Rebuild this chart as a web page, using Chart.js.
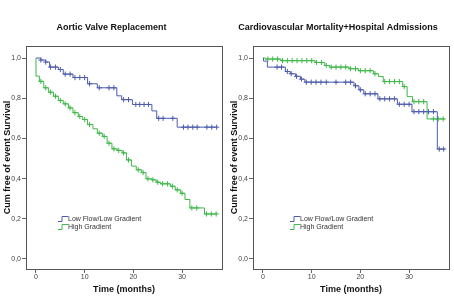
<!DOCTYPE html>
<html>
<head>
<meta charset="utf-8">
<script src="https://cdn.jsdelivr.net/npm/chart.js@4.4.0/dist/chart.umd.min.js"></script>
<style>
    html, body { margin: 0; padding: 0; background: #fff; }
    .wrap { display: flex; width: 454px; height: 304px; }
    .panel { position: relative; width: 227px; height: 304px; }
</style>
</head>
<body>
<div class="wrap">
    <div class="panel"><canvas id="avrChart"></canvas></div>
    <div class="panel"><canvas id="cvChart"></canvas></div>
</div>
<script>
// Tick labels
const xTicks = [0, 10, 20, 30];
const yTicks = [0, 0.2, 0.4, 0.6, 0.8, 1.0];
const seriesLabels = ['Low Flow/Low Gradient', 'High Gradient'];

// Aortic Valve Replacement - Low Flow/Low Gradient (event times, survival after the event, censored times)
const avrLowTimes = [1, 2, 2.8, 4.6, 5.6, 7.6, 10.6, 12.6, 16.6, 17.6, 19.8, 23.8, 24.8, 29.0];
const avrLowSurv = [0.99, 0.98, 0.955, 0.943, 0.92, 0.903, 0.872, 0.852, 0.812, 0.793, 0.769, 0.737, 0.70, 0.656];
const avrLowCensor = [1, 2, 3, 4, 5, 6, 7, 8, 9, 10, 11, 13, 15, 16, 18, 19, 20.5, 21.3, 22.2, 23.1, 25.2, 26.1, 28.1, 30.3, 31.2, 32.2, 33.1, 35.1, 36.1, 37.1];
const avrLowEnd = 37.1;

// Aortic Valve Replacement - High Gradient
const avrHighTimes = [0, 0.7, 1.6, 2.6, 3.6, 4.6, 5.6, 6.7, 7.6, 8.7, 9.6, 10.6, 11.7, 12.6, 13.7, 14.6, 15.6, 16.7, 17.7, 18.6, 19.6, 20.6, 21.7, 22.6, 23.8, 24.7, 25.6, 27.6, 28.6, 29.7, 30.6, 31.6, 34.6];
const avrHighSurv = [0.91, 0.884, 0.852, 0.83, 0.81, 0.789, 0.772, 0.752, 0.728, 0.709, 0.694, 0.669, 0.648, 0.626, 0.61, 0.576, 0.548, 0.54, 0.528, 0.493, 0.462, 0.444, 0.43, 0.399, 0.394, 0.382, 0.374, 0.362, 0.344, 0.327, 0.296, 0.254, 0.224];
const avrHighCensor = [1, 2, 3, 4, 5, 6, 7, 8, 9, 10, 11, 13, 14, 15, 16, 17, 18, 19, 21, 22, 23, 24, 25, 26, 27, 28, 29, 30, 32, 33, 35, 36, 37];
const avrHighEnd = 37.2;

// Cardiovascular Mortality+Hospital Admissions - Low Flow/Low Gradient
const cvLowTimes = [0.1, 0.9, 4.6, 5.6, 6.7, 7.7, 8.6, 18.7, 19.7, 20.7, 23.6, 27.6, 30.6, 35.8];
const cvLowSurv = [0.985, 0.955, 0.933, 0.922, 0.909, 0.895, 0.88, 0.862, 0.842, 0.822, 0.797, 0.77, 0.733, 0.547];
const cvLowCensor = [2.9, 3.8, 5, 5.8, 6.9, 7.9, 8.9, 9.9, 10.9, 11.9, 13, 15, 17, 18, 19, 20, 21, 22, 23, 24, 25, 26, 27, 28, 29, 30, 31, 32, 33, 34, 35, 36.2, 37.1];
const cvLowEnd = 37.3;

// Cardiovascular Mortality+Hospital Admissions - High Gradient
const cvHighTimes = [0.5, 3.7, 10.7, 12.7, 13.7, 17.7, 19.6, 22.7, 23.7, 24.7, 28.7, 29.6, 30.7, 33.7];
const cvHighSurv = [0.995, 0.987, 0.978, 0.963, 0.955, 0.947, 0.937, 0.922, 0.908, 0.883, 0.858, 0.808, 0.783, 0.697];
const cvHighCensor = [1, 2, 3, 4, 5, 6, 7, 8, 9, 10, 11, 12, 13, 14, 15, 16, 17, 18, 19, 20, 21, 22, 23, 25, 26, 27, 28, 29, 31, 32, 33, 35, 36, 37];
const cvHighEnd = 37.3;

const blue = '#4d5cae';
const green = '#3fb84a';
const fontFamily = "'Liberation Sans Narrow', 'Liberation Sans', Arial, sans-serif";

// survival value of a step curve at time t
function survAt(times, surv, t) {
    let s = 1.0;
    for (let i = 0; i < times.length; i++) {
        if (times[i] <= t) s = surv[i];
    }
    return s;
}

function stepPoints(times, surv, end) {
    const pts = [{ x: 0, y: 1.0 }];
    for (let i = 0; i < times.length; i++) pts.push({ x: times[i], y: surv[i] });
    pts.push({ x: end, y: surv[surv.length - 1] });
    return pts;
}

function censorPoints(times, surv, censor) {
    return censor.map(t => ({ x: t, y: survAt(times, surv, t) }));
}

// khung quanh vùng vẽ + chú thích bên trong
const framePlugin = {
    id: 'frame',
    afterDraw(chart) {
        const a = chart.chartArea;
        const ctx = chart.ctx;
        ctx.save();
        ctx.strokeStyle = '#555';
        ctx.lineWidth = 1;
        ctx.strokeRect(Math.round(a.left) + 0.5, Math.round(a.top) + 0.5, Math.round(a.right - a.left), Math.round(a.bottom - a.top));

        // legend
        const colors = [blue, green];
        const lx = a.left + chart.options.plugins.frame.legendX;
        let ly = a.bottom - 50;
        ctx.font = "7px 'Liberation Sans Narrow', 'Liberation Sans', Arial, sans-serif";
        ctx.textBaseline = 'middle';
        seriesLabels.forEach((label, i) => {
            ctx.strokeStyle = colors[i];
            ctx.beginPath();
            ctx.moveTo(lx, ly + 2.5);
            ctx.lineTo(lx + 4, ly + 2.5);
            ctx.lineTo(lx + 4, ly - 2.5);
            ctx.lineTo(lx + 10, ly - 2.5);
            ctx.stroke();
            ctx.fillStyle = '#333';
            ctx.fillText(label, lx + 10, ly);
            ly += 8;
        });
        ctx.restore();
    }
};

function makeChart(id, title, low, high, padRight, legendX) {
    const ctx = document.getElementById(id).getContext('2d');
    return new Chart(ctx, {
        type: 'line',
        data: {
            datasets: [
                {
                    label: seriesLabels[0],
                    data: stepPoints(low.times, low.surv, low.end),
                    borderColor: blue,
                    borderWidth: 1,
                    stepped: 'before',
                    pointRadius: 0,
                    fill: false
                },
                {
                    label: seriesLabels[1],
                    data: stepPoints(high.times, high.surv, high.end),
                    borderColor: green,
                    borderWidth: 1,
                    stepped: 'before',
                    pointRadius: 0,
                    fill: false
                },
                {
                    label: seriesLabels[0] + ' censored',
                    data: censorPoints(low.times, low.surv, low.censor),
                    showLine: false,
                    pointStyle: 'cross',
                    pointRadius: 2.6,
                    borderColor: blue,
                    pointBorderWidth: 1
                },
                {
                    label: seriesLabels[1] + ' censored',
                    data: censorPoints(high.times, high.surv, high.censor),
                    showLine: false,
                    pointStyle: 'cross',
                    pointRadius: 2.6,
                    borderColor: green,
                    pointBorderWidth: 1
                }
            ]
        },
        options: {
            responsive: true,
            maintainAspectRatio: false,
            animation: false,
            layout: { padding: { top: 0, right: padRight, bottom: 0, left: 0 } },
            scales: {
                x: {
                    type: 'linear',
                    min: -2.05,
                    max: 38.2,
                    afterBuildTicks: scale => { scale.ticks = xTicks.map(v => ({ value: v })); },
                    afterFit: scale => { scale.height = 35; },
                    grid: { drawOnChartArea: false, tickLength: 4, color: '#666' },
                    border: { color: '#555' },
                    ticks: { font: { size: 7, family: fontFamily }, color: '#444', padding: 0, maxRotation: 0 },
                    title: {
                        display: true,
                        text: 'Time (months)',
                        font: { size: 9, weight: 'bold', family: fontFamily },
                        color: '#111',
                        padding: { top: 0, bottom: 9 }
                    }
                },
                y: {
                    min: -0.05,
                    max: 1.06,
                    afterBuildTicks: scale => { scale.ticks = yTicks.map(v => ({ value: v })); },
                    afterFit: scale => { scale.width = 26; },
                    grid: { drawOnChartArea: false, tickLength: 4, color: '#666' },
                    border: { color: '#555' },
                    ticks: {
                        font: { size: 7, family: fontFamily },
                        color: '#444',
                        padding: 1,
                        callback: v => v.toFixed(1).replace('.', ',')
                    },
                    title: {
                        display: true,
                        text: 'Cum free of event Survival',
                        font: { size: 9, weight: 'bold', family: fontFamily },
                        color: '#111',
                        padding: { top: 2, bottom: 0 }
                    }
                }
            },
            plugins: {
                legend: { display: false },
                tooltip: { enabled: false },
                title: {
                    display: true,
                    text: title,
                    font: { size: 9, weight: 'bold', family: fontFamily },
                    color: '#111',
                    padding: { top: 22, bottom: 13.2 }
                },
                frame: { legendX: legendX }
            }
        },
        plugins: [framePlugin]
    });
}

makeChart('avrChart', 'Aortic Valve Replacement',
    { times: avrLowTimes, surv: avrLowSurv, censor: avrLowCensor, end: avrLowEnd },
    { times: avrHighTimes, surv: avrHighSurv, censor: avrHighCensor, end: avrHighEnd },
    4, 32);

makeChart('cvChart', 'Cardiovascular Mortality+Hospital Admissions',
    { times: cvLowTimes, surv: cvLowSurv, censor: cvLowCensor, end: cvLowEnd },
    { times: cvHighTimes, surv: cvHighSurv, censor: cvHighCensor, end: cvHighEnd },
    5, 37);
</script>
</body>
</html>
